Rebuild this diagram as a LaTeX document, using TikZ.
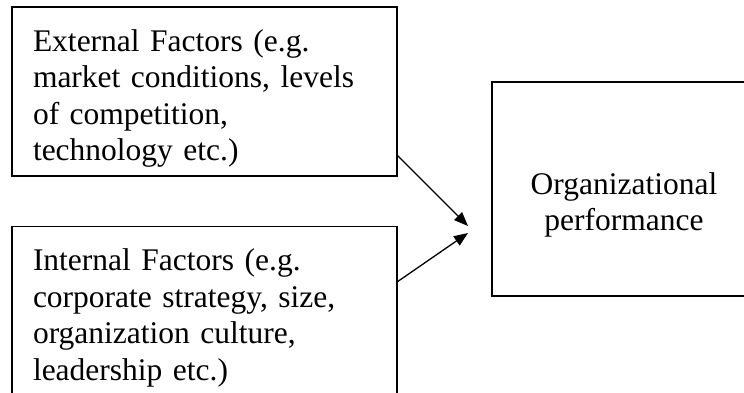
\documentclass[tikz,border=0pt]{standalone}
\usepackage{fontspec}
\setmainfont{Liberation Serif}
\usepackage{tikz}
\usetikzlibrary{positioning, arrows.meta, calc}

\newcommand{\toppad}{\rule{0pt}{36pt}}

\begin{document}
\begin{tikzpicture}[
			x=1pt, y=-1pt,
			every node/.style={font=\fontsize{31.5}{36.5}\selectfont},
			factor/.style={rectangle, draw=black, line width=1.2pt, minimum width=385pt, minimum height=169pt, text width=343pt, align=left, inner sep=0pt},
			frame/.style={rectangle, draw=black, line width=1.2pt, minimum width=264pt, minimum height=214pt, inner sep=0pt},
			link/.style={-{Triangle[length=14pt, width=11pt]}, line width=1.3pt}
			]
			\useasboundingbox (0,0) rectangle (744,393);
			
			% External factors
			\node[factor] (external) at (204.5,91.5) {\toppad External Factors (e.g.\\market conditions, levels\\of competition,\\technology etc.)};
			
			% Internal factors
			\node[factor, below=49pt of external] (internal) {\toppad Internal Factors (e.g.\\corporate strategy, size,\\organization culture,\\leadership etc.)};
			
			% Performance
			\node[frame] (performance) at (624,189) {};
			\node[align=center, inner sep=0pt] (perftext) at ([yshift=-16pt]performance.center) {Organizational\\performance};
			
			% Arrow tips
			\coordinate (tipext) at (468,226);
			\coordinate (tipint) at (468,233);
			
			% Arrows
			\draw[link] ([yshift=21pt]external.south east) -- (tipext);
			\draw[link] ([yshift=-56pt]internal.north east) -- (tipint);
			
		\end{tikzpicture}
\end{document}
